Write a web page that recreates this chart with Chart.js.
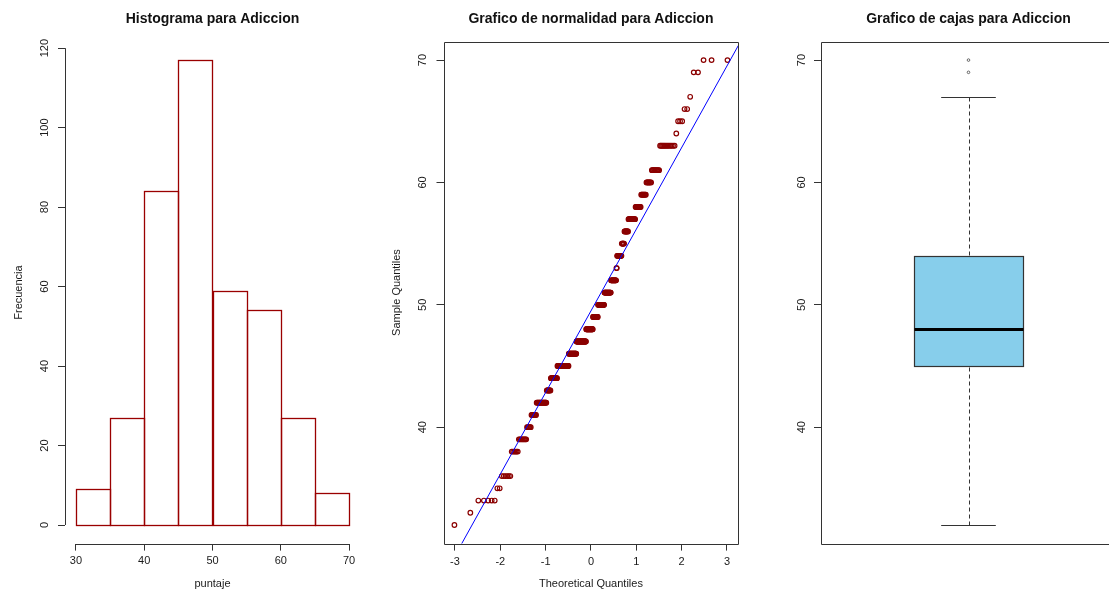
<!DOCTYPE html>
<html lang="es">
<head>
<meta charset="utf-8">
<title>Adiccion</title>
<script src="https://cdn.jsdelivr.net/npm/chart.js@4.4.1/dist/chart.umd.min.js"></script>
<style>
    html, body { margin: 0; padding: 0; background: #fff; overflow: hidden; }
    body { width: 1109px; height: 592px; position: relative; }
    canvas { position: absolute; top: 0; }
    #histograma { left: 0; }
    #normalidad { left: 370px; }
    #cajas { left: 740px; }
</style>
</head>
<body>
<canvas id="histograma" width="370" height="592"></canvas>
<canvas id="normalidad" width="370" height="592"></canvas>
<canvas id="cajas" width="380" height="592"></canvas>

<script>
// ==================== DATOS ====================

// Histograma: cortes de 5 en 5 y frecuencia de cada clase
const cortes = [30, 35, 40, 45, 50, 55, 60, 65, 70];
const frecHistograma = [9, 27, 84, 117, 59, 54, 27, 8];

// Puntajes distintos y cuantas veces aparece cada uno (grafico de normalidad)
const puntajes     = [32, 33, 34, 35, 36, 38, 39, 40, 41, 42, 43, 44, 45, 46, 47, 48, 49, 50,
                      51, 52, 53, 54, 55, 56, 57, 58, 59, 60, 61, 63, 64, 65, 66, 67, 69, 70];
const repeticiones = [1, 1, 5, 2, 6, 6, 9, 6, 8, 19, 9, 16, 32, 24, 32, 23, 17, 21,
                      21, 16, 2, 13, 7, 10, 16, 11, 9, 8, 10, 13, 1, 3, 2, 1, 2, 3];

// Boxplot: minimo, Q1, mediana, Q3, maximo (bigotes) y valores atipicos
const cincoNumeros = [32, 45, 48, 54, 67];
const atipicos = [69, 70];

// Marcas de los ejes
const marcasPuntajeHist = [30, 40, 50, 60, 70];
const marcasFrecuencia = [0, 20, 40, 60, 80, 100, 120];
const marcasTeoricas = [-3, -2, -1, 0, 1, 2, 3];
const marcasPuntaje = [40, 50, 60, 70];

// ==================== ESTILOS ====================

const colorRojo = '#8B0000';
const colorBarras = '#9A0000';
const colorEje = '#333333';
const colorTexto = '#1a1a1a';
const fuenteEjes = { size: 11 };
const anchoCaja = 0.4; // ancho de la caja en unidades del eje x

Chart.defaults.font.family = "'Liberation Sans', Arial, sans-serif";
Chart.defaults.animation = false;

// ==================== FUNCIONES AUXILIARES ====================

// Cuantil de la normal estandar (algoritmo de Acklam)
function qnorm(p) {
    const a = [-3.969683028665376e+01, 2.209460984245205e+02, -2.759285104469687e+02,
               1.383577518672690e+02, -3.066479806614716e+01, 2.506628277459239e+00];
    const b = [-5.447609879822406e+01, 1.615858368580409e+02, -1.556989798598866e+02,
               6.680131188771972e+01, -1.328068155288572e+01];
    const c = [-7.784894002430293e-03, -3.223964580411365e-01, -2.400758277161838e+00,
               -2.549732539343734e+00, 4.374664141464968e+00, 2.938163982698783e+00];
    const d = [7.784695709041462e-03, 3.224671290700398e-01, 2.445134137142996e+00,
               3.754408661907416e+00];
    const pBajo = 0.02425;
    let q, r;
    if (p < pBajo || p > 1 - pBajo) {
        q = Math.sqrt(-2 * Math.log(p < pBajo ? p : 1 - p));
        const v = (((((c[0]*q + c[1])*q + c[2])*q + c[3])*q + c[4])*q + c[5]) /
                  ((((d[0]*q + d[1])*q + d[2])*q + d[3])*q + 1);
        return p < pBajo ? v : -v;
    }
    q = p - 0.5;
    r = q * q;
    return (((((a[0]*r + a[1])*r + a[2])*r + a[3])*r + a[4])*r + a[5]) * q /
           (((((b[0]*r + b[1])*r + b[2])*r + b[3])*r + b[4])*r + 1);
}

// Igual que R: el rango de los ejes se amplia un 4%
function extenderRango(min, max) {
    const extra = (max - min) * 0.04;
    return [min - extra, max + extra];
}

function ejeY(rango, marcas, titulo, sepTitulo, separacion, ancho) {
    return {
        type: 'linear',
        position: 'left',
        min: rango[0],
        max: rango[1],
        afterBuildTicks: eje => { eje.ticks = marcas.map(v => ({ value: v })); },
        afterFit: eje => { eje.width = ancho; },
        grid: { drawOnChartArea: false, drawTicks: true, tickLength: 7, color: colorEje },
        border: { display: false },
        ticks: {
            minRotation: 90, maxRotation: 90, crossAlign: 'center',
            padding: separacion, color: colorTexto, font: fuenteEjes,
            callback: v => String(v)
        },
        title: titulo
            ? { display: true, text: titulo, color: colorTexto, font: fuenteEjes, padding: { top: sepTitulo, bottom: 0 } }
            : { display: false }
    };
}

function ejeX(rango, marcas, titulo, separacion, sepTitulo) {
    return {
        type: 'linear',
        position: 'bottom',
        min: rango[0],
        max: rango[1],
        offset: false,
        afterBuildTicks: eje => { eje.ticks = marcas.map(v => ({ value: v })); },
        afterFit: eje => { eje.height = 48.4; },
        grid: { drawOnChartArea: false, drawTicks: true, tickLength: 7, color: colorEje, offset: false },
        border: { display: false },
        ticks: { maxRotation: 0, padding: separacion, color: colorTexto, font: fuenteEjes, callback: v => String(v) },
        title: { display: true, text: titulo, color: colorTexto, font: fuenteEjes, padding: { top: 0, bottom: sepTitulo } }
    };
}

function titulo(texto) {
    return {
        display: true,
        text: texto,
        fullSize: false,
        color: '#111',
        font: { size: 14, weight: 'bold' },
        padding: { top: 11.2, bottom: 13.5 }
    };
}

// Ejes estilo R: linea solo entre la primera y la ultima marca, o marco completo
const ejesR = {
    id: 'ejesR',
    afterDraw(chart, args, opciones) {
        const { ctx, chartArea, scales } = chart;
        ctx.save();
        ctx.strokeStyle = colorEje;
        ctx.lineWidth = 1;
        ctx.beginPath();
        if (opciones.marco) {
            const l = Math.round(chartArea.left) + 0.5, t = Math.round(chartArea.top) + 0.5;
            const r = Math.round(chartArea.right) + 0.5, b = Math.round(chartArea.bottom) + 0.5;
            ctx.rect(l, t, r - l, b - t);
        } else {
            const x = scales.x, y = scales.y;
            const yb = Math.round(chartArea.bottom) + 0.5;
            const xl = Math.round(chartArea.left) + 0.5;
            ctx.moveTo(x.getPixelForValue(x.ticks[0].value), yb);
            ctx.lineTo(x.getPixelForValue(x.ticks[x.ticks.length - 1].value), yb);
            ctx.moveTo(xl, y.getPixelForValue(y.ticks[0].value));
            ctx.lineTo(xl, y.getPixelForValue(y.ticks[y.ticks.length - 1].value));
        }
        ctx.stroke();
        ctx.restore();
    }
};

// Contorno de las barras del histograma (como rect() de R, bordes compartidos de 1 linea)
const contornoBarras = {
    id: 'contornoBarras',
    afterDatasetsDraw(chart) {
        const { ctx } = chart;
        ctx.save();
        ctx.strokeStyle = colorBarras;
        ctx.lineWidth = 1.3;
        chart.getDatasetMeta(0).data.forEach(barra => {
            const { x, y, base, width } = barra.getProps(['x', 'y', 'base', 'width']);
            ctx.strokeRect(Math.round(x - width / 2) + 0.5, Math.round(y) + 0.5,
                           Math.round(width), Math.round(base) - Math.round(y));
        });
        ctx.restore();
    }
};

// Caja, mediana y bigotes del boxplot, dibujados con las escalas del grafico
const cajaBoxplot = {
    id: 'cajaBoxplot',
    beforeDatasetsDraw(chart) {
        const { ctx, scales: { x, y } } = chart;
        const [minimo, q1, mediana, q3, maximo] = cincoNumeros;
        const xc = Math.round(x.getPixelForValue(1)) + 0.5;
        const xIzq = Math.round(x.getPixelForValue(1 - anchoCaja / 2)) + 0.5;
        const xDer = Math.round(x.getPixelForValue(1 + anchoCaja / 2)) + 0.5;
        const tIzq = x.getPixelForValue(1 - anchoCaja / 4);
        const tDer = x.getPixelForValue(1 + anchoCaja / 4);
        const py = v => Math.round(y.getPixelForValue(v)) + 0.5;

        ctx.save();
        ctx.strokeStyle = colorEje;
        ctx.lineWidth = 1;

        // bigotes punteados
        ctx.setLineDash([4, 3]);
        ctx.beginPath();
        ctx.moveTo(xc, py(minimo));
        ctx.lineTo(xc, py(q1));
        ctx.moveTo(xc, py(maximo));
        ctx.lineTo(xc, py(q3));
        ctx.stroke();
        ctx.setLineDash([]);

        // topes de los bigotes
        ctx.beginPath();
        [minimo, maximo].forEach(v => {
            ctx.moveTo(tIzq, py(v));
            ctx.lineTo(tDer, py(v));
        });
        ctx.stroke();

        // caja
        ctx.fillStyle = '#87CEEB';
        ctx.fillRect(xIzq, py(q3), xDer - xIzq, py(q1) - py(q3));
        ctx.lineWidth = 1.2;
        ctx.strokeRect(xIzq, py(q3), xDer - xIzq, py(q1) - py(q3));

        // mediana
        ctx.strokeStyle = '#000';
        ctx.lineWidth = 3;
        ctx.beginPath();
        ctx.moveTo(xIzq, py(mediana));
        ctx.lineTo(xDer, py(mediana));
        ctx.stroke();
        ctx.restore();
    }
};

const opcionesBase = {
    responsive: false,
    events: []
};

// ==================== HISTOGRAMA ====================

function crearHistograma() {
    const ctx = document.getElementById('histograma').getContext('2d');
    const barras = frecHistograma.map((f, i) => ({ x: (cortes[i] + cortes[i + 1]) / 2, y: f }));

    new Chart(ctx, {
        type: 'bar',
        data: {
            datasets: [{
                data: barras,
                backgroundColor: '#ffffff',
                borderWidth: 0,
                barPercentage: 1,
                categoryPercentage: 1
            }]
        },
        options: {
            ...opcionesBase,
            layout: { autoPadding: false, padding: { left: 0, right: 10, top: 0, bottom: 0 } },
            scales: {
                x: ejeX(extenderRango(cortes[0], cortes[cortes.length - 1]), marcasPuntajeHist, 'puntaje', 3.8, 1.4),
                y: ejeY(extenderRango(0, Math.max(...frecHistograma)), marcasFrecuencia, 'Frecuencia', 12.4, 3.8, 65)
            },
            plugins: {
                legend: { display: false },
                tooltip: { enabled: false },
                title: titulo('Histograma para Adiccion'),
                ejesR: { marco: false }
            }
        },
        plugins: [contornoBarras, ejesR]
    });
}

// ==================== GRAFICO DE NORMALIDAD (QQ) ====================

function crearNormalidad() {
    const ctx = document.getElementById('normalidad').getContext('2d');

    // muestra ordenada a partir de la tabla de frecuencias
    const muestra = [];
    puntajes.forEach((v, i) => {
        for (let k = 0; k < repeticiones[i]; k++) muestra.push(v);
    });
    const n = muestra.length;
    const puntos = muestra.map((v, i) => ({ x: qnorm((i + 0.5) / n), y: v }));

    const rangoX = extenderRango(puntos[0].x, puntos[n - 1].x);
    const rangoY = extenderRango(puntajes[0], puntajes[puntajes.length - 1]);

    // qqline: recta por el primer y tercer cuartil
    const z1 = qnorm(0.25), z3 = qnorm(0.75);
    const pendiente = (cincoNumeros[3] - cincoNumeros[1]) / (z3 - z1);
    const intercepto = cincoNumeros[1] - pendiente * z1;
    const recta = rangoX.map(z => ({ x: z, y: intercepto + pendiente * z }));

    new Chart(ctx, {
        type: 'scatter',
        data: {
            datasets: [{
                type: 'line',
                data: recta,
                borderColor: '#0000ff',
                borderWidth: 1,
                pointRadius: 0,
                fill: false
            }, {
                data: puntos,
                pointStyle: 'circle',
                pointRadius: 2.3,
                pointBorderWidth: 1.2,
                pointBackgroundColor: 'rgba(0,0,0,0)',
                pointBorderColor: colorRojo
            }]
        },
        options: {
            ...opcionesBase,
            layout: { autoPadding: false, padding: { left: 0, right: 1.6, top: 0, bottom: 0 } },
            scales: {
                x: ejeX(rangoX, marcasTeoricas, 'Theoretical Quantiles', 4.5, 1.1),
                y: ejeY(rangoY, marcasPuntaje, 'Sample Quantiles', 20.4, 7.2, 73.5)
            },
            plugins: {
                legend: { display: false },
                tooltip: { enabled: false },
                title: titulo('Grafico de normalidad para Adiccion'),
                ejesR: { marco: true }
            }
        },
        plugins: [ejesR]
    });
}

// ==================== GRAFICO DE CAJAS ====================

function crearCajas() {
    const ctx = document.getElementById('cajas').getContext('2d');
    const rangoY = extenderRango(puntajes[0], puntajes[puntajes.length - 1]);
    const rangoX = extenderRango(0.5, 1.5);

    new Chart(ctx, {
        type: 'scatter',
        data: {
            datasets: [{
                data: atipicos.map(v => ({ x: 1, y: v })),
                pointStyle: 'circle',
                pointRadius: 1.3,
                pointBorderWidth: 0.8,
                pointBackgroundColor: 'rgba(0,0,0,0)',
                pointBorderColor: '#444'
            }]
        },
        options: {
            ...opcionesBase,
            layout: { autoPadding: false, padding: { left: 0, right: 4, top: 0, bottom: 48.4 } },
            scales: {
                x: { type: 'linear', display: false, min: rangoX[0], max: rangoX[1] },
                y: ejeY(rangoY, marcasPuntaje, null, 0, 6.2, 81)
            },
            plugins: {
                legend: { display: false },
                tooltip: { enabled: false },
                title: titulo('Grafico de cajas para Adiccion'),
                ejesR: { marco: true }
            }
        },
        plugins: [cajaBoxplot, ejesR]
    });
}

document.addEventListener("DOMContentLoaded", () => {
    crearHistograma();
    crearNormalidad();
    crearCajas();
});
</script>
</body>
</html>
